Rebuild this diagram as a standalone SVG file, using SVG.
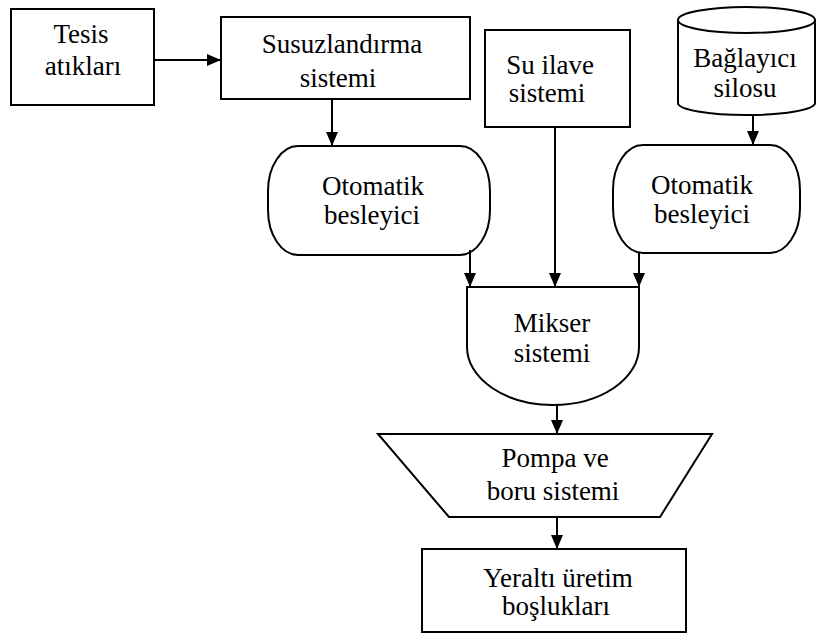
<svg xmlns="http://www.w3.org/2000/svg" width="816" height="635" viewBox="0 0 816 635">
<style>
.shape{fill:#fff;stroke:#000;stroke-width:2}
.t{font-family:"Liberation Serif","Times New Roman",serif;font-size:27px;fill:#000;text-anchor:middle}
.c{stroke:#000;stroke-width:2;fill:none;marker-end:url(#ah)}
</style>
<defs>
<marker id="ah" markerUnits="userSpaceOnUse" markerWidth="14" markerHeight="12" refX="14" refY="6" orient="auto">
<path d="M0,0 L14,6 L0,12 Z" fill="#000"/>
</marker>
</defs>
<rect width="816" height="635" fill="#fff"/>
<g id="tesis">
<rect class="shape" x="11" y="9" width="143" height="96"/>
<text class="t" x="81" y="43">Tesis</text>
<text class="t" x="83" y="75">atıkları</text>
</g>
<g id="susuzlandirma">
<rect class="shape" x="221" y="17" width="249" height="82"/>
<text class="t" x="342" y="53">Susuzlandırma</text>
<text class="t" x="338" y="87">sistemi</text>
</g>
<g id="su-ilave">
<rect class="shape" x="485" y="30" width="145" height="97"/>
<text class="t" x="550" y="74">Su ilave</text>
<text class="t" x="547" y="102">sistemi</text>
</g>
<g id="baglayici-silosu">
<path class="shape" d="M678,20 V103 A68.5,12 0 0 0 815,103 V20"/>
<ellipse class="shape" cx="746.5" cy="20" rx="68.5" ry="13"/>
<text class="t" x="745" y="67">Bağlayıcı</text>
<text class="t" x="745" y="97">silosu</text>
</g>
<g id="otomatik-besleyici-1">
<rect class="shape" x="268" y="146" width="222" height="109" rx="30" ry="45"/>
<text class="t" x="373" y="195">Otomatik</text>
<text class="t" x="372" y="224">besleyici</text>
</g>
<g id="otomatik-besleyici-2">
<rect class="shape" x="613" y="145" width="187" height="108" rx="30" ry="45"/>
<text class="t" x="702" y="194">Otomatik</text>
<text class="t" x="702" y="223">besleyici</text>
</g>
<g id="mikser">
<path class="shape" d="M467,287 H639 V347 A86,58 0 0 1 467,347 Z"/>
<text class="t" x="552" y="332">Mikser</text>
<text class="t" x="552" y="362">sistemi</text>
</g>
<g id="pompa">
<polygon class="shape" points="378,434 712,434 660,517 449,517"/>
<text class="t" x="555" y="467">Pompa ve</text>
<text class="t" x="553" y="500">boru sistemi</text>
</g>
<g id="yeralti">
<rect class="shape" x="422" y="549" width="264" height="83"/>
<text class="t" x="558" y="587">Yeraltı üretim</text>
<text class="t" x="556" y="615">boşlukları</text>
</g>
<g id="connectors">
<line class="c" x1="153" y1="60" x2="221" y2="60"/>
<line class="c" x1="332" y1="99" x2="332" y2="146"/>
<line class="c" x1="753" y1="116" x2="753" y2="145"/>
<line class="c" x1="470" y1="250" x2="470" y2="287"/>
<line class="c" x1="555" y1="127" x2="555" y2="287"/>
<line class="c" x1="639" y1="252" x2="639" y2="287"/>
<line class="c" x1="557" y1="405" x2="557" y2="434"/>
<line class="c" x1="557" y1="517" x2="557" y2="549"/>
</g>
</svg>
